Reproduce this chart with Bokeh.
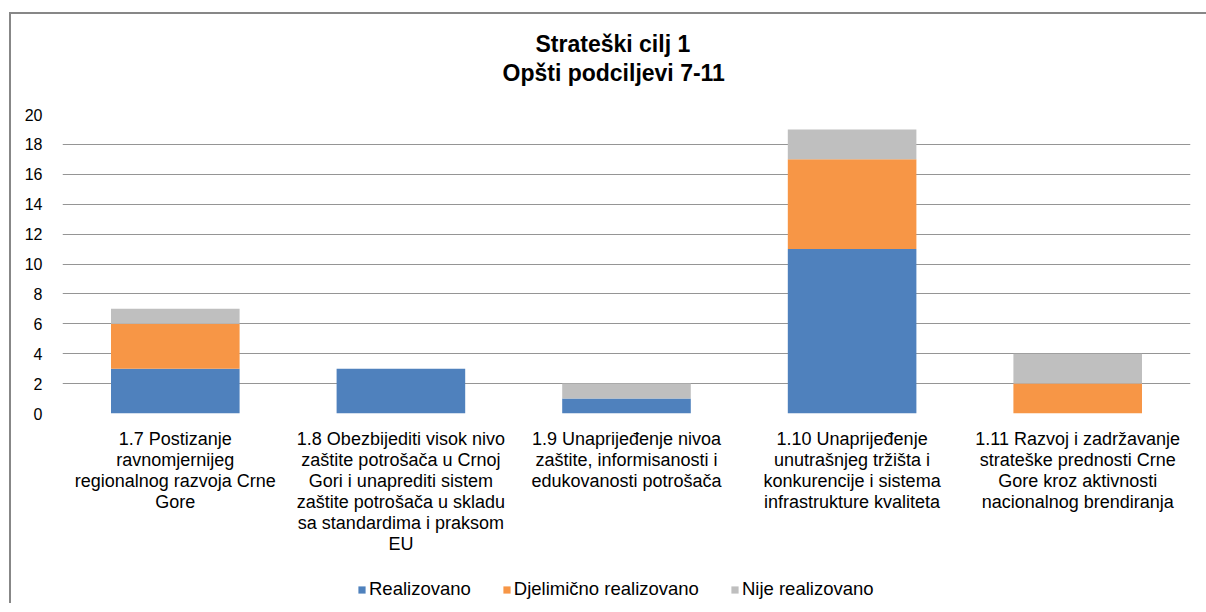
from bokeh.plotting import figure
from bokeh.models import (ColumnDataSource, FactorRange, Range1d, Legend, LegendItem,
                          FixedTicker, Title, InlineStyleSheet)
from bokeh.layouts import column
from bokeh.embed import file_html
from bokeh.resources import INLINE

# ---- data ----
categories = [
    "1.7 Postizanje\nravnomjernijeg\nregionalnog razvoja Crne\nGore",
    "1.8 Obezbijediti visok nivo\nzaštite potrošača u Crnoj\nGori i unaprediti sistem\nzaštite potrošača u skladu\nsa standardima i praksom\nEU",
    "1.9 Unaprijeđenje nivoa\nzaštite, informisanosti i\nedukovanosti potrošača",
    "1.10 Unaprijeđenje\nunutrašnjeg tržišta i\nkonkurencije i sistema\ninfrastrukture kvaliteta",
    "1.11 Razvoj i zadržavanje\nstrateške prednosti Crne\nGore kroz aktivnosti\nnacionalnog brendiranja",
]
series = ["Realizovano", "Djelimično realizovano", "Nije realizovano"]
realizovano = [3, 3, 1, 11, 0]
djelimicno = [3, 0, 0, 6, 2]
nije = [1, 0, 1, 2, 2]
y_ticks = [0, 2, 4, 6, 8, 10, 12, 14, 16, 18, 20]
title_line1 = "Strateški cilj 1"
title_line2 = "Opšti podciljevi 7-11"

colors = ["#4F81BD", "#F79646", "#BFBFBF"]
FONT = "Liberation Sans"
BORDER = "#878787"

source = ColumnDataSource(data=dict(
    cat=categories,
    **{series[0]: realizovano, series[1]: djelimicno, series[2]: nije},
))

top_css = InlineStyleSheet(css=f"""
:host::after {{
  content: ""; position: absolute; left: 9px; top: 12px; right: 0; bottom: 0;
  border-left: 2px solid {BORDER}; border-top: 2px solid {BORDER};
  pointer-events: none; z-index: 100;
}}""")
side_css = InlineStyleSheet(css=f"""
:host::after {{
  content: ""; position: absolute; left: 9px; top: 0; width: 0; bottom: 0;
  border-left: 2px solid {BORDER};
  pointer-events: none; z-index: 100;
}}""")

# ---- title strip (frames of the column are aligned: 62 px left, 16 px right) ----
p0 = figure(
    width=1206, height=90,
    output_backend="svg", toolbar_location=None,
    x_axis_location=None, y_axis_location=None,
    min_border=0, min_border_top=86, min_border_left=62, min_border_right=16,
    stylesheets=[top_css],
)
p0.outline_line_color = None
p0.grid.grid_line_color = None
p0.border_fill_color = "white"
p0.title.text = title_line1
p0.title.align = "left"
p0.title.text_font = FONT
p0.title.text_font_size = "23px"
p0.title.text_font_style = "bold"
p0.title.text_color = "#000000"
p0.title.offset = 473
p0.title.standoff = 1
p0.add_layout(Title(text=title_line2, align="left", text_font=FONT,
                    text_font_size="23px", text_font_style="bold",
                    text_color="#000000", offset=440, standoff=1), "above")

# ---- main chart ----
p = figure(
    width=1206, height=485,
    x_range=FactorRange(*categories, range_padding=0),
    y_range=Range1d(0, 20),
    output_backend="svg", toolbar_location=None,
    min_border_left=62, min_border_right=16,
    min_border_top=24, min_border_bottom=162,
    stylesheets=[side_css],
)
p.outline_line_color = None
p.background_fill_color = "white"
p.border_fill_color = "white"

renderers = p.vbar_stack(series, x="cat", width=0.57, color=colors,
                         line_color=None, source=source)

# axes
p.yaxis.ticker = FixedTicker(ticks=y_ticks)
p.yaxis.axis_line_color = None
p.yaxis.major_tick_line_color = None
p.yaxis.minor_tick_line_color = None
p.yaxis.major_label_text_font = FONT
p.yaxis.major_label_text_font_size = "16px"
p.yaxis.major_label_text_color = "#000000"
p.yaxis.major_label_standoff = 14

p.xaxis.axis_line_color = None
p.xaxis.major_tick_line_color = None
p.xaxis.minor_tick_line_color = None
p.xaxis.major_label_text_font = FONT
p.xaxis.major_label_text_font_size = "18px"
p.xaxis.major_label_text_color = "#000000"
p.xaxis.major_label_text_line_height = 1.05
p.xaxis.major_label_standoff = 9
p.xaxis.major_label_orientation = "horizontal"

p.xgrid.grid_line_color = None
p.ygrid.ticker = FixedTicker(ticks=y_ticks)
p.ygrid.grid_line_color = "#959595"
p.ygrid.grid_line_width = 1

# ---- legend strip below the chart ----
p2 = figure(
    width=1206, height=28,
    x_range=FactorRange(*categories, range_padding=0),
    y_range=Range1d(0, 20),
    output_backend="svg", toolbar_location=None,
    x_axis_location=None, y_axis_location=None,
    min_border=0, min_border_left=62, min_border_right=16,
    stylesheets=[side_css],
)
p2.outline_line_color = None
p2.grid.grid_line_color = None
p2.border_fill_color = "white"
proxies = p2.vbar_stack(series, x="cat", width=0.57, color=colors,
                        line_color=None, source=source)
for r in proxies:
    r.visible = False
legend = Legend(
    items=[LegendItem(label=s, renderers=[r]) for s, r in zip(series, proxies)],
    orientation="horizontal", location="left",
    glyph_width=9, glyph_height=9, label_standoff=3, spacing=31,
    label_text_font=FONT, label_text_font_size="18.5px", label_text_color="#000000",
    border_line_color=None, background_fill_alpha=0, padding=0, margin=295,
    inactive_fill_alpha=0,
)
p2.add_layout(legend, "center")

layout = column(p0, p, p2, spacing=0)
open("out.html", "w").write(file_html(layout, INLINE))
